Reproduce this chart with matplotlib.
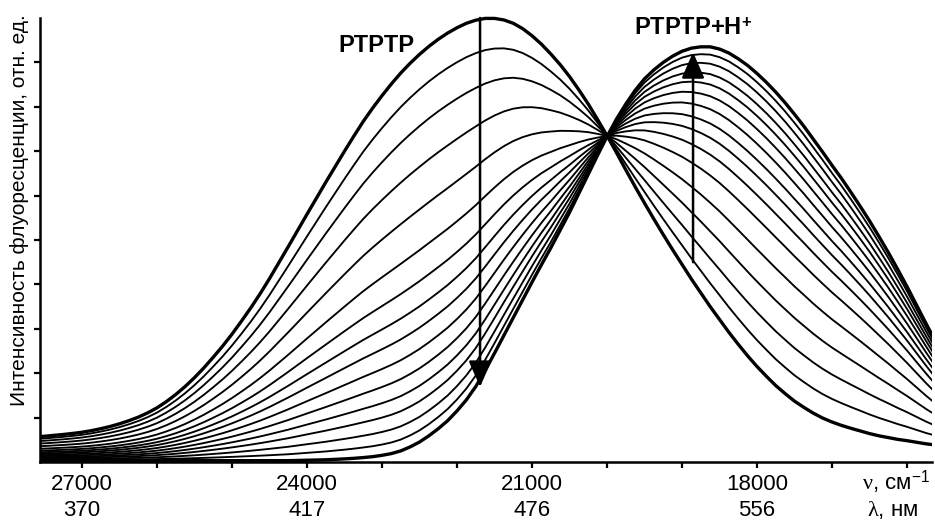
import numpy as np
import matplotlib
matplotlib.use('Agg')
import matplotlib.pyplot as plt
from matplotlib.transforms import blended_transform_factory

plt.rcParams['font.family'] = ['Liberation Sans', 'DejaVu Sans']
plt.rcParams['mathtext.fontset'] = 'custom'
plt.rcParams['mathtext.rm'] = 'Liberation Serif'
plt.rcParams['mathtext.it'] = 'Liberation Serif:italic'
plt.rcParams['mathtext.bf'] = 'Liberation Sans:bold'
plt.rcParams['mathtext.sf'] = 'Liberation Sans'

# wavenumber grid, cm^-1 (27750 ... 15500, step 125)
wavenumber = np.arange(27750, 15375, -125)

# neutral form (thick curve, left peak)
ptptp = [0.55, 0.565, 0.58, 0.60, 0.62, 0.643, 0.67, 0.706, 0.75, 0.80,
         0.86, 0.93, 1.01, 1.106, 1.22, 1.36, 1.52, 1.70, 1.90, 2.12,
         2.36, 2.61, 2.88, 3.17, 3.47, 3.79, 4.13, 4.49, 4.85, 5.215,
         5.58, 5.94, 6.30, 6.65, 7.00, 7.34, 7.67, 7.97, 8.25, 8.515,
         8.76, 8.98, 9.18, 9.36, 9.52, 9.66, 9.78, 9.88, 9.95, 9.99,
         9.99, 9.955, 9.88, 9.76, 9.60, 9.41, 9.19, 8.95, 8.68, 8.38,
         8.06, 7.71, 7.35, 6.97, 6.58, 6.20, 5.83, 5.47, 5.12, 4.78,
         4.45, 4.12, 3.81, 3.50, 3.21, 2.92, 2.65, 2.39, 2.15, 1.93,
         1.72, 1.54, 1.37, 1.23, 1.10, 0.99, 0.90, 0.825, 0.76, 0.70,
         0.64, 0.59, 0.55, 0.51, 0.48, 0.445, 0.41, 0.385, 0.36]

# protonated form (thick curve, right peak)
ptptp_h = [0.03, 0.03, 0.03, 0.03, 0.03, 0.03, 0.03, 0.03, 0.03, 0.03,
           0.03, 0.03, 0.03, 0.03, 0.03, 0.03, 0.03, 0.03, 0.03, 0.03,
           0.03, 0.03, 0.03, 0.03, 0.03, 0.03, 0.03, 0.03, 0.03, 0.035,
           0.04, 0.045, 0.05, 0.06, 0.07, 0.083, 0.10, 0.12, 0.15, 0.19,
           0.25, 0.34, 0.45, 0.59, 0.75, 0.93, 1.15, 1.40, 1.70, 2.06,
           2.45, 2.85, 3.25, 3.65, 4.05, 4.44, 4.82, 5.22, 5.62, 6.05,
           6.48, 6.91, 7.33, 7.72, 8.06, 8.37, 8.63, 8.83, 9.00, 9.14,
           9.25, 9.32, 9.35, 9.35, 9.30, 9.21, 9.08, 8.93, 8.75, 8.55,
           8.33, 8.09, 7.83, 7.56, 7.27, 6.98, 6.68, 6.39, 6.08, 5.76,
           5.43, 5.08, 4.72, 4.34, 3.95, 3.54, 3.13, 2.73, 2.33]

# share of the protonated spectrum in each intermediate curve (read at the arrows)
fractions = [0.09, 0.185, 0.29, 0.40, 0.505, 0.585, 0.65, 0.705,
             0.76, 0.81, 0.855, 0.895, 0.935, 0.97]

wn_ticks = [27000, 24000, 21000, 18000]
nm_labels = ['370', '417', '476', '556']

A = np.array(ptptp)
B = np.array(ptptp_h)

W, H = 935, 520
fig = plt.figure(figsize=(W / 100, H / 100), dpi=100)
ax = fig.add_axes([40 / W, 58 / H, (932 - 40) / W, (462 - 11.3) / H])

for f in fractions:
    ax.plot(wavenumber, (1 - f) * A + f * B, color='black', lw=1.35)
ax.plot(wavenumber, A, color='black', lw=2.4)
ax.plot(wavenumber, B, color='black', lw=2.4)

ax.set_xlim(27560, 15667)
ax.set_ylim(0, 10.15)
ax.spines['top'].set_visible(False)
ax.spines['right'].set_visible(False)
ax.spines['left'].set_bounds(0, 10)
for s in ('left', 'bottom'):
    ax.spines[s].set_linewidth(1.8)
ax.set_xticks(np.arange(27000, 15999, -1000))
ax.set_xticklabels([])
ax.set_yticks(np.arange(1, 10))
ax.set_yticklabels([])
ax.tick_params(axis='both', direction='out', length=4.5, width=1.6, color='black')

# arrows
style = '-|>,head_length=0.64,head_width=0.28'
ax.annotate('', xy=(21693, 1.69), xytext=(21693, 10.0),
            arrowprops=dict(arrowstyle=style, lw=1.8, color='black',
                            shrinkA=0, shrinkB=0, mutation_scale=25))
ax.annotate('', xy=(18853, 9.23), xytext=(18853, 4.5),
            arrowprops=dict(arrowstyle=style, lw=1.8, color='black',
                            shrinkA=0, shrinkB=0, mutation_scale=25))

fig.text(376 / W, 1 - 46 / H, 'PTPTP', fontsize=17, fontweight='bold',
         ha='center', va='center')
fig.text(693 / W, 1 - 28 / H, r'PTPTP+H$^{\mathbf{+}}$', fontsize=17,
         fontweight='bold', ha='center', va='center')

# two rows of x labels: wavenumber and wavelength
tr = blended_transform_factory(ax.transData, fig.transFigure)
for wn, nm in zip(wn_ticks, nm_labels):
    ax.text(wn, 1 - 490 / H, str(wn), transform=tr, ha='center',
            va='baseline', fontsize=16)
    ax.text(wn, 1 - 516 / H, nm, transform=tr, ha='center',
            va='baseline', fontsize=16)
fig.text(896 / W, 1 - 490 / H, r'$\mathrm{\nu}$, см$^{\mathsf{-1}}$',
         ha='center', va='baseline', fontsize=16)
fig.text(893 / W, 1 - 516 / H, r'$\mathrm{\lambda}$, нм',
         ha='center', va='baseline', fontsize=16)

fig.text(20 / W, 1 - 210 / H, 'Интенсивность флуоресценции, отн. ед.',
         rotation=90, ha='center', va='center', fontsize=15)

fig.savefig('out.png', dpi=100)
